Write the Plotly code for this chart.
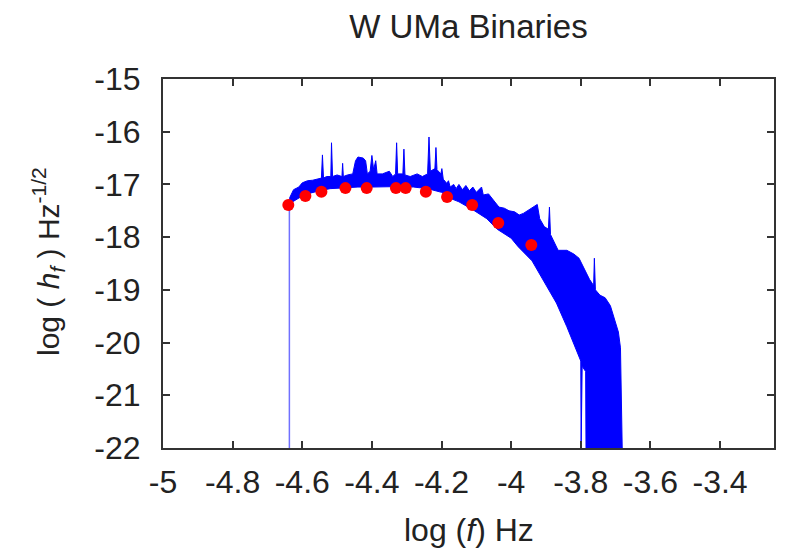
import plotly.graph_objects as go

# ---- data ----
# upper envelope of the blue spectrum (left to right, spikes included)
upper_x = [-4.636, -4.636, -4.625, -4.61, -4.60, -4.585, -4.57, -4.555, -4.545,
           -4.542, -4.539, -4.53, -4.518, -4.516, -4.513, -4.50, -4.49,
           -4.486, -4.484, -4.482, -4.47, -4.455, -4.447, -4.44, -4.425, -4.418, -4.413,
           -4.405, -4.40, -4.395, -4.389, -4.385, -4.37, -4.35, -4.34,
           -4.332, -4.329, -4.326, -4.311, -4.308, -4.305, -4.29, -4.27, -4.255,
           -4.24, -4.236, -4.232, -4.219, -4.216, -4.213, -4.202, -4.199, -4.195,
           -4.185, -4.18, -4.175, -4.165, -4.158, -4.15, -4.14, -4.13, -4.12, -4.11,
           -4.10, -4.085, -4.08, -4.065, -4.05, -4.035, -4.02, -4.006, -3.99, -3.977,
           -3.965, -3.95, -3.935, -3.925, -3.918, -3.905, -3.893, -3.890, -3.887,
           -3.875, -3.865, -3.84, -3.82, -3.805, -3.79, -3.775, -3.765,
           -3.763, -3.761, -3.758, -3.745, -3.73, -3.715, -3.70, -3.692, -3.686,
           -3.683, -3.681]
upper_y = [-17.5, -17.25, -17.1, -17.05, -16.97, -16.93, -16.92, -16.9, -16.88,
           -16.44, -16.88, -16.85, -16.85, -16.21, -16.85, -16.82, -16.85,
           -16.85, -16.6, -16.85, -16.82, -16.8, -16.55, -16.48, -16.5, -16.55, -16.8,
           -16.75, -16.45, -16.72, -16.55, -16.8, -16.8, -16.75, -16.85,
           -16.8, -16.21, -16.8, -16.8, -16.33, -16.82, -16.85, -16.8, -16.85,
           -16.8, -16.1, -16.75, -16.7, -16.3, -16.72, -16.8, -16.7, -16.9,
           -16.98, -16.93, -17.05, -17.0, -17.08, -17.0, -17.1, -17.02, -17.12, -17.05,
           -17.15, -17.05, -17.2, -17.18, -17.3, -17.43, -17.45, -17.5, -17.52, -17.58,
           -17.55, -17.48, -17.42, -17.38, -17.65, -17.8, -17.85, -17.43, -17.95,
           -18.1, -18.25, -18.25, -18.32, -18.4, -18.6, -18.8, -18.9,
           -18.9, -18.4, -19.0, -19.1, -19.15, -19.3, -19.6, -19.8, -20.1,
           -21.0, -22.0]

# lower envelope of the blue spectrum (left to right)
lower_x = [-4.633, -4.62, -4.60, -4.58, -4.55, -4.52, -4.48, -4.44, -4.40, -4.36,
           -4.32, -4.28, -4.24, -4.20, -4.18, -4.15, -4.11, -4.07, -4.04, -4.00,
           -3.98, -3.94, -3.90, -3.87, -3.84, -3.815, -3.80, -3.799, -3.797, -3.796,
           -3.786, -3.785]
lower_y = [-17.35, -17.3, -17.22, -17.17, -17.12, -17.08, -17.06, -17.05, -17.05, -17.05,
           -17.04, -17.05, -17.08, -17.15, -17.25, -17.33, -17.48, -17.65, -17.85, -18.02,
           -18.18, -18.45, -18.9, -19.25, -19.7, -20.1, -20.35, -22.0, -22.0, -20.45,
           -20.55, -22.0]

# thin leading edge of the spectrum
edge_x = [-4.637, -4.637]
edge_y = [-17.3, -22.0]

# binned points (red)
dot_x = [-4.640, -4.591, -4.545, -4.476, -4.415, -4.331, -4.303, -4.245, -4.184,
         -4.112, -4.037, -3.942]
dot_y = [-17.39, -17.22, -17.14, -17.07, -17.07, -17.07, -17.07, -17.14, -17.24,
         -17.39, -17.73, -18.15]

x_ticks = [-5, -4.8, -4.6, -4.4, -4.2, -4, -3.8, -3.6, -3.4]
x_tick_text = ["-5", "-4.8", "-4.6", "-4.4", "-4.2", "-4", "-3.8", "-3.6", "-3.4"]
y_ticks = [-15, -16, -17, -18, -19, -20, -21, -22]
y_tick_text = ["-15", "-16", "-17", "-18", "-19", "-20", "-21", "-22"]

FONT = "Liberation Sans"
TXT = "#222222"

fig = go.Figure()

fig.add_trace(go.Scatter(
    x=edge_x, y=edge_y, mode="lines",
    line=dict(color="#7070ff", width=1.5), hoverinfo="skip", showlegend=False))

poly_x = upper_x + lower_x[::-1]
poly_y = upper_y + lower_y[::-1]
fig.add_trace(go.Scatter(
    x=poly_x, y=poly_y, mode="lines", fill="toself",
    fillcolor="#0000ff", line=dict(color="#0000ff", width=1),
    showlegend=False))

fig.add_trace(go.Scatter(
    x=dot_x, y=dot_y, mode="markers",
    marker=dict(color="#ff0000", size=12, line=dict(width=0)),
    showlegend=False))

axis_common = dict(
    showline=True, linecolor="#333333", linewidth=2, mirror="ticks",
    ticks="inside", ticklen=7, tickwidth=1.5, tickcolor="#333333",
    showgrid=False, zeroline=False,
    tickfont=dict(family=FONT, size=32, color=TXT),
)

fig.update_xaxes(range=[-5, -3.245], tickvals=x_ticks, ticktext=x_tick_text,
                 ticklabelstandoff=5, **axis_common)
fig.update_yaxes(range=[-22, -15], tickvals=y_ticks, ticktext=y_tick_text,
                 ticklabelstandoff=14, **axis_common)

fig.update_layout(
    width=793, height=554,
    margin=dict(l=163, r=19, t=79, b=106),
    paper_bgcolor="white", plot_bgcolor="white",
    title=dict(text="W UMa Binaries", x=0.5, xref="paper", xanchor="center",
               y=1 - 26 / 554, yref="container", yanchor="middle",
               font=dict(family=FONT, size=33, color=TXT)),
    annotations=[
        dict(text="log (<i>f</i>) Hz", xref="paper", yref="paper",
             x=0.5, y=-(530 - 448) / 369, xanchor="center", yanchor="middle",
             showarrow=False, font=dict(family=FONT, size=32, color=TXT)),
        dict(text="log ( <i>h<sub>f</sub></i> ) Hz<sup>-1/2</sup>",
             xref="paper", yref="paper",
             x=-(163 - 48) / 611, y=(448 - 262) / 369, xanchor="center", yanchor="middle",
             textangle=-90, showarrow=False,
             font=dict(family=FONT, size=30, color=TXT)),
    ],
)

fig.write_html("out.html")
